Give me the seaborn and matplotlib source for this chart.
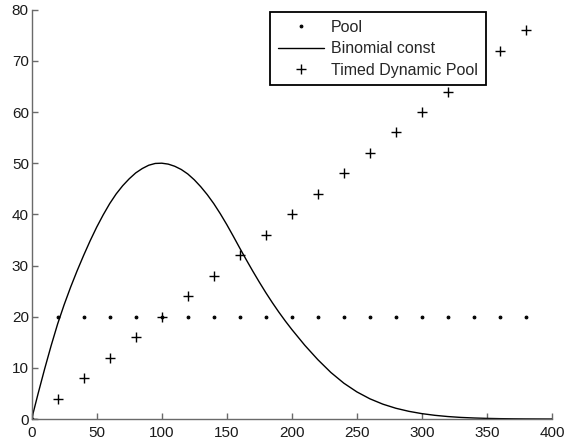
import matplotlib
matplotlib.use("Agg")
import matplotlib.pyplot as plt
import seaborn as sns
import pandas as pd

# Pool (dots)
pool_x = [0, 20, 40, 60, 80, 100, 120, 140, 160, 180, 200, 220, 240, 260, 280, 300, 320, 340, 360, 380]
pool_y = [0, 20, 20, 20, 20, 20, 20, 20, 20, 20, 20, 20, 20, 20, 20, 20, 20, 20, 20, 20]

# Timed Dynamic Pool (+)
timed_x = [0, 20, 40, 60, 80, 100, 120, 140, 160, 180, 200, 220, 240, 260, 280, 300, 320, 340, 360, 380]
timed_y = [0, 4, 8, 12, 16, 20, 24, 28, 32, 36, 40, 44, 48, 52, 56, 60, 64, 68, 72, 76]

# Binomial const (curve)
binom_x = [0, 5, 10, 15, 20, 25, 30, 35, 40, 45, 50, 55, 60, 65, 70, 75, 80, 85, 90, 95,
           100, 105, 110, 115, 120, 125, 130, 135, 140, 145, 150, 155, 160, 165, 170, 175,
           180, 185, 190, 195, 200, 210, 220, 230, 240, 250, 260, 270, 280, 290, 300,
           310, 320, 330, 340, 350, 360, 370, 380, 390, 400]
binom_y = [0, 5.0, 9.8, 14.35, 18.6, 22.35, 25.8, 29.0, 32.0, 34.85, 37.5, 39.9, 42.1, 44.0,
           45.6, 46.95, 48.1, 48.95, 49.6, 49.95,
           50.0, 49.82, 49.4, 48.77, 47.9, 46.76, 45.4, 43.85, 42.1, 40.13, 38.0, 35.73,
           33.4, 31.12, 28.9, 26.76, 24.7, 22.75, 20.9, 19.15, 17.5, 14.4, 11.6, 9.1, 7.0,
           5.3, 3.95, 2.9, 2.1, 1.5, 1.05, 0.72, 0.48, 0.31, 0.2, 0.12, 0.07, 0.04, 0.02,
           0.01, 0.0]

x_ticks = [0, 50, 100, 150, 200, 250, 300, 350, 400]
y_ticks = [0, 10, 20, 30, 40, 50, 60, 70, 80]

sns.set_style("ticks")
plt.rcParams['font.family'] = ['Liberation Sans', 'DejaVu Sans']
plt.rcParams['font.size'] = 11

fig = plt.figure(figsize=(5.65, 4.45), dpi=100)
ax = fig.add_axes([0.056, 0.0584, 0.921, 0.9198])

pool_df = pd.DataFrame({"x": pool_x, "y": pool_y})
timed_df = pd.DataFrame({"x": timed_x, "y": timed_y})
binom_df = pd.DataFrame({"x": binom_x, "y": binom_y})

sns.lineplot(data=pool_df, x="x", y="y", ax=ax, color="black", linestyle="none",
             marker=".", markersize=4, markeredgecolor="black", markerfacecolor="black",
             estimator=None, sort=False, label="Pool")
sns.lineplot(data=binom_df, x="x", y="y", ax=ax, color="black", linewidth=1.0,
             estimator=None, sort=False, label="Binomial const")
sns.lineplot(data=timed_df, x="x", y="y", ax=ax, color="black", linestyle="none",
             marker="+", markersize=7.5, markeredgewidth=1.0, markeredgecolor="black",
             estimator=None, sort=False, label="Timed Dynamic Pool")

ax.set_xlim(0, 400)
ax.set_ylim(0, 80)
ax.set_xticks(x_ticks)
ax.set_yticks(y_ticks)
ax.set_xlabel("")
ax.set_ylabel("")
sns.despine(ax=ax)
for s in ["left", "bottom"]:
    ax.spines[s].set_color("#6a6a6a")
    ax.spines[s].set_linewidth(1.0)
ax.tick_params(direction="in", length=4, width=1.0, color="#6a6a6a",
               labelsize=11, labelcolor="#1a1a1a")
ax.tick_params(axis="x", pad=5)
ax.tick_params(axis="y", pad=2)

leg = ax.legend(loc="upper right", bbox_to_anchor=(0.873, 0.995), borderaxespad=0,
                fancybox=False, framealpha=1, edgecolor="black", handlelength=2.9,
                labelspacing=0.4, fontsize=11.5, borderpad=0.5, handletextpad=0.42)
leg.get_frame().set_linewidth(1.3)

fig.savefig("out.png", dpi=100)
